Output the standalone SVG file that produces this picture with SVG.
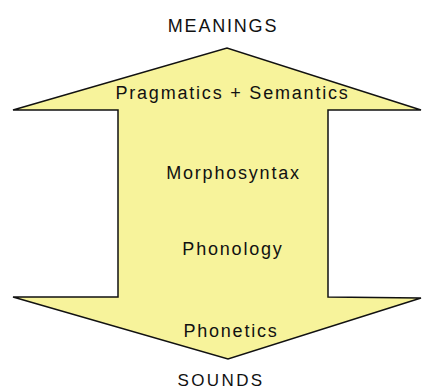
<svg xmlns="http://www.w3.org/2000/svg" width="423" height="391" viewBox="0 0 423 391">
  <style>
    .lbl { font-family: "Liberation Sans", Arial, sans-serif; font-size: 18px; letter-spacing: 1.8px; fill: #111; text-anchor: middle; }
    .arrow { fill: #F7F39B; stroke: #111; stroke-width: 1.5; stroke-linejoin: miter; }
  </style>
  <rect width="423" height="391" fill="#ffffff"/>
  <g id="arrow">
    <polygon class="arrow" points="13,110 227,48 421,110 328,110 328,297 421,298 228,359 13,297 118,297 118,110"/>
  </g>
  <g id="meanings"><text class="lbl" x="223" y="32">MEANINGS</text></g>
  <g id="pragmatics-semantics"><text class="lbl" x="232.5" y="99">Pragmatics + Semantics</text></g>
  <g id="morphosyntax"><text class="lbl" x="233.5" y="179">Morphosyntax</text></g>
  <g id="phonology"><text class="lbl" x="233" y="255">Phonology</text></g>
  <g id="phonetics"><text class="lbl" x="231" y="337">Phonetics</text></g>
  <g id="sounds"><text class="lbl" x="221" y="386" style="font-size:17px;letter-spacing:2.4px">SOUNDS</text></g>
</svg>
